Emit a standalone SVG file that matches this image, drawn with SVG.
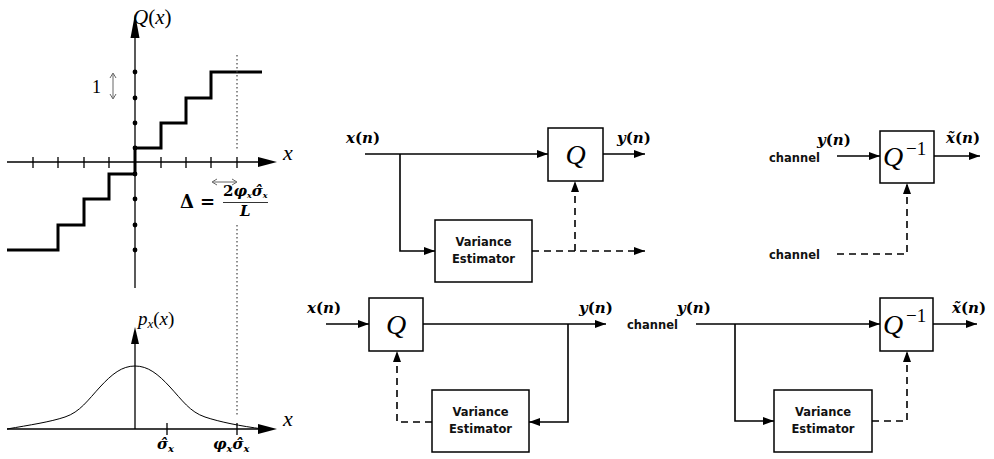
<svg xmlns="http://www.w3.org/2000/svg" width="994" height="459" viewBox="0 0 994 459">
<style>
.ln{stroke:#000;stroke-width:1.6;fill:none}
.dash{stroke:#000;stroke-width:1.6;fill:none;stroke-dasharray:7 5}
.box{fill:#fff;stroke:#000;stroke-width:1.5}
.lbl{font-family:"DejaVu Sans",sans-serif;font-weight:bold;font-size:11.5px;fill:#111}
.m{font-family:"DejaVu Serif",serif;font-weight:bold;font-style:italic;font-size:15px;fill:#000}
.up{font-style:normal}
.Q{font-family:"Liberation Serif",serif;font-style:italic;font-size:28px;fill:#000}
.sup{font-family:"Liberation Serif",serif;font-size:19px;fill:#000}
.ax{stroke:#000;stroke-width:1.3;fill:none}
.mi{font-family:"Liberation Serif",serif;font-style:italic;fill:#000}
.gr{stroke:#666;stroke-width:1;fill:none}
.dot{stroke:#444;stroke-width:1.2;fill:none;stroke-dasharray:1.5 2.5}
</style>
<defs>
<marker id="ah" viewBox="0 0 11 8" refX="11" refY="4" markerWidth="11" markerHeight="8" markerUnits="userSpaceOnUse" orient="auto"><path d="M0,0 L11,4 L0,8 z" fill="#000"/></marker>
</defs>

<g id="quantizer-plot">
  <line class="ax" x1="135" y1="288" x2="135" y2="36"/>
  <polygon points="135,14 130.5,38 139.5,38" fill="#000"/>
  <line class="ax" x1="7" y1="162" x2="260" y2="162"/>
  <polygon points="277,162 258,157 258,167" fill="#000"/>
  <path class="ax" d="M33,157V168M58,157V168M84,157V168M109,157V168M161,157V168M186,157V168M211,157V168M237,157V168"/>
  <g fill="#000">
    <circle cx="135" cy="72" r="2.4"/><circle cx="135" cy="98" r="2.4"/><circle cx="135" cy="123" r="2.4"/><circle cx="135" cy="148" r="2.4"/>
    <circle cx="135" cy="174" r="2.4"/><circle cx="135" cy="199" r="2.4"/><circle cx="135" cy="225" r="2.4"/><circle cx="135" cy="250" r="2.4"/>
  </g>
  <path d="M7,250H58V225H84V199H109V174H135V148H161V123H186V98H211V72H262" stroke="#000" stroke-width="3" fill="none"/>
  <line class="dot" x1="237" y1="55" x2="237" y2="150"/>
  <line class="dot" x1="237" y1="225" x2="237" y2="415"/>
  <text class="mi" x="133" y="24" font-size="21">Q<tspan class="up">(</tspan>x<tspan class="up">)</tspan></text>
  <text x="92" y="93" font-family="Liberation Serif,serif" font-size="18" fill="#000">1</text>
  <path class="gr" d="M113,74V98M110,78L113,73L116,78M110,94L113,99L116,94"/>
  <text class="mi" x="283" y="160" font-size="22">x</text>
  <path class="gr" d="M213,182H236M217,179L212,182L217,185M232,179L237,182L232,185"/>
  <text x="180" y="208" font-family="DejaVu Serif,serif" font-weight="bold" font-size="18">Δ</text>
  <text x="200" y="208" font-family="DejaVu Serif,serif" font-weight="bold" font-size="18">=</text>
  <text class="m" x="223" y="196" font-size="11"><tspan class="up">2</tspan>φ<tspan font-size="8" dy="2">x</tspan><tspan dy="-2">σ̂</tspan><tspan font-size="8" dy="2">x</tspan></text>
  <line x1="223" y1="202.5" x2="268" y2="202.5" stroke="#000" stroke-width="0.8"/>
  <text class="m" x="240" y="216" font-size="10.5">L</text>
</g>

<g id="pdf-plot">
  <line class="ax" x1="135" y1="429" x2="135" y2="342"/>
  <polygon points="135,327 131,344 139,344" fill="#000"/>
  <line class="ax" x1="7" y1="429" x2="260" y2="429"/>
  <polygon points="277,429 258,424 258,434" fill="#000"/>
  <path class="ax" d="M167,423V435M237,423V435"/>
  <path d="M7,429 C30,425 50,422 65,417 C80,412 88,400 100,387 C112,374 122,366 135,366 C148,366 158,374 170,387 C182,400 190,412 205,417 C220,422 240,426 263,429" stroke="#000" stroke-width="1" fill="none"/>
  <text class="mi" x="138" y="325" font-size="19">p<tspan font-size="13" dy="3">x</tspan><tspan class="up" dy="-3">(</tspan>x<tspan class="up">)</tspan></text>
  <text class="mi" x="283" y="426" font-size="22">x</text>
  <text class="m" x="157" y="449" font-size="15">σ̂<tspan font-size="10" dy="3">x</tspan></text>
  <text class="m" x="213" y="449" font-size="15">φ<tspan font-size="10" dy="3">x</tspan><tspan dy="-3">σ̂</tspan><tspan font-size="10" dy="3">x</tspan></text>
</g>

<g id="encoder-forward">
  <g id="Q1"><rect class="box" x="548" y="128" width="55" height="53"/><text class="Q" x="575.5" y="164" text-anchor="middle">Q</text></g>
  <g id="VE1"><rect class="box" x="435" y="220" width="97" height="62"/><text class="lbl" x="483.5" y="246" text-anchor="middle">Variance</text><text class="lbl" x="483.5" y="263" text-anchor="middle">Estimator</text></g>
  <text class="m" x="346" y="143">x<tspan class="up">(</tspan>n<tspan class="up">)</tspan></text>
  <text class="m" x="617" y="143">y<tspan class="up">(</tspan>n<tspan class="up">)</tspan></text>
</g>

<g id="decoder-forward">
  <g id="Qi1"><rect class="box" x="880" y="131" width="54" height="52"/><text class="Q" x="883" y="166">Q</text><text class="sup" x="906" y="155">−1</text></g>
  <text class="lbl" x="769" y="162">channel</text>
  <text class="lbl" x="769" y="259">channel</text>
  <text class="m" x="817" y="145">y<tspan class="up">(</tspan>n<tspan class="up">)</tspan></text>
  <text class="m" x="946" y="143">x̃<tspan class="up">(</tspan>n<tspan class="up">)</tspan></text>
</g>

<g id="encoder-backward">
  <g id="Q2"><rect class="box" x="369" y="298" width="54" height="53"/><text class="Q" x="396" y="334" text-anchor="middle">Q</text></g>
  <g id="VE2"><rect class="box" x="432" y="390" width="97" height="62"/><text class="lbl" x="480.5" y="416" text-anchor="middle">Variance</text><text class="lbl" x="480.5" y="433" text-anchor="middle">Estimator</text></g>
  <text class="m" x="307" y="313">x<tspan class="up">(</tspan>n<tspan class="up">)</tspan></text>
  <text class="m" x="579" y="313">y<tspan class="up">(</tspan>n<tspan class="up">)</tspan></text>
</g>

<g id="decoder-backward">
  <g id="Qi2"><rect class="box" x="880" y="298" width="53" height="53"/><text class="Q" x="883" y="334">Q</text><text class="sup" x="906" y="322">−1</text></g>
  <g id="VE3"><rect class="box" x="774" y="390" width="98" height="62"/><text class="lbl" x="823" y="416" text-anchor="middle">Variance</text><text class="lbl" x="823" y="433" text-anchor="middle">Estimator</text></g>
  <text class="lbl" x="627" y="329">channel</text>
  <text class="m" x="677" y="313">y<tspan class="up">(</tspan>n<tspan class="up">)</tspan></text>
  <text class="m" x="952" y="313">x̃<tspan class="up">(</tspan>n<tspan class="up">)</tspan></text>
</g>

<g id="connectors">
  <path class="ln" d="M365,154H548" marker-end="url(#ah)"/>
  <path class="ln" d="M400,154V251H435" marker-end="url(#ah)"/>
  <path class="ln" d="M603,154H645" marker-end="url(#ah)"/>
  <path class="dash" d="M532,251H645" marker-end="url(#ah)"/>
  <path class="dash" d="M575,251V181" marker-end="url(#ah)"/>

  <path class="ln" d="M837,156H880" marker-end="url(#ah)"/>
  <path class="ln" d="M934,156H980" marker-end="url(#ah)"/>
  <path class="dash" d="M837,254H907V183" marker-end="url(#ah)"/>

  <path class="ln" d="M326,324H369" marker-end="url(#ah)"/>
  <path class="ln" d="M423,324H606" marker-end="url(#ah)"/>
  <path class="ln" d="M568,324V422H529" marker-end="url(#ah)"/>
  <path class="dash" d="M432,422H397V351" marker-end="url(#ah)"/>

  <path class="ln" d="M696,324H880" marker-end="url(#ah)"/>
  <path class="ln" d="M933,324H977" marker-end="url(#ah)"/>
  <path class="ln" d="M735,324V421H774" marker-end="url(#ah)"/>
  <path class="dash" d="M872,421H907V351" marker-end="url(#ah)"/>
</g>
</svg>
